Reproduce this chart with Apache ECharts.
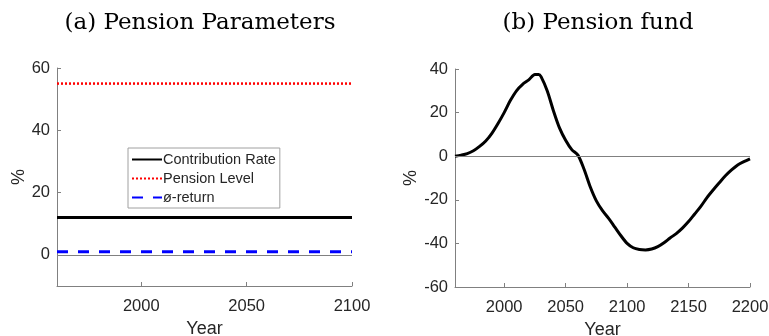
<!DOCTYPE html>
<html>
<head>
<meta charset="utf-8">
<script src="https://cdn.jsdelivr.net/npm/echarts@6/dist/echarts.min.js"></script>
<style>
  html, body { margin: 0; padding: 0; background: #fff; }
  #chart { width: 769px; height: 336px; }
</style>
</head>
<body>
<div id="chart"></div>
<script>
// panel (a): constant pension parameters over 1960-2100
const yearsA = [1960, 2100];
const contributionRate = [12, 12];
const pensionLevel = [55, 55];
const avgReturn = [1, 1];

// panel (b): pension fund, %
const yearsB = [1960, 1965, 1970, 1975, 1980, 1985, 1990, 1995, 2000, 2005,
  2010, 2015, 2020, 2025, 2028, 2030, 2035, 2040, 2045, 2050,
  2055, 2060, 2065, 2070, 2075, 2080, 2085, 2090, 2095, 2100,
  2105, 2110, 2115, 2120, 2125, 2130, 2135, 2140, 2145, 2150,
  2155, 2160, 2165, 2170, 2175, 2180, 2185, 2190, 2195, 2200];
const pensionFund = [0, 0.5, 1.2, 2.5, 4.5, 7, 10.5, 15, 20, 25.5,
  30, 33, 35, 37.5, 37.5, 36.5, 30, 21, 13, 7.3,
  3, 0.5, -6, -14, -20.5, -25, -28.5, -32.5, -36.5, -40,
  -42, -42.8, -43, -42.6, -41.5, -39.7, -37.5, -35.5, -33, -30,
  -26.5, -23, -19, -15.5, -12.2, -9, -6.3, -4, -2.5, -1.2];

const ticksXA = [2000, 2050, 2100];
const ticksYA = [0, 20, 40, 60];
const ticksXB = [2000, 2050, 2100, 2150, 2200];

const pairs = (xs, ys) => xs.map((x, i) => [x, ys[i]]);

const textColor = '#262626';
const axisGray = '#808080';
const labelFont = 'Liberation Sans';

const axisCommon = {
  type: 'value',
  axisLine: { show: true, onZero: false, lineStyle: { color: axisGray, width: 1 } },
  axisTick: { show: true, inside: true, length: 4, lineStyle: { color: axisGray } },
  splitLine: { show: false },
  axisLabel: { color: textColor, fontFamily: labelFont, fontSize: 16.5, formatter: v => String(v) },
  nameTextStyle: { color: textColor, fontFamily: labelFont, fontSize: 18 },
  nameLocation: 'middle'
};

const xAxis = (idx, min, max, ticks) => ({
  ...axisCommon,
  gridIndex: idx, min, max,
  name: 'Year', nameGap: 34,
  axisTick: { ...axisCommon.axisTick, customValues: ticks },
  axisLabel: { ...axisCommon.axisLabel, margin: 12, customValues: ticks }
});

const yAxis = (idx, min, max, ticks, interval, gap) => ({
  ...axisCommon,
  gridIndex: idx, min, max, interval,
  name: '%', nameGap: gap,
  axisTick: { ...axisCommon.axisTick, customValues: ticks },
  axisLabel: { ...axisCommon.axisLabel, margin: 7, customValues: ticks }
});

const zeroLine = {
  silent: true, symbol: 'none', label: { show: false },
  lineStyle: { color: axisGray, width: 1, type: 'solid' },
  data: [{ yAxis: 0 }]
};

const option = {
  animation: false,
  backgroundColor: '#fff',
  title: [
    { text: '(a) Pension Parameters', left: 195, top: 7, textAlign: 'center',
      textStyle: { fontFamily: 'DejaVu Serif', fontWeight: 'normal', fontSize: 23, color: '#000' } },
    { text: '(b) Pension fund', left: 593, top: 7, textAlign: 'center',
      textStyle: { fontFamily: 'DejaVu Serif', fontWeight: 'normal', fontSize: 23, color: '#000' } }
  ],
  legend: {
    orient: 'vertical', left: 128, top: 148,
    padding: [4, 4, 3, 3], itemGap: 4, itemWidth: 30, itemHeight: 14,
    backgroundColor: '#fff', borderColor: '#a0a0a0', borderWidth: 1, borderRadius: 0,
    itemStyle: { opacity: 0 },
    textStyle: { color: textColor, fontFamily: labelFont, fontSize: 14.5, padding: [0, 0, 0, -4] },
    data: ['Contribution Rate', 'Pension Level', 'ø-return']
  },
  grid: [
    { left: 57, right: 417, top: 68, bottom: 50, outerBoundsMode: 'none' },
    { left: 455, right: 19, top: 69, bottom: 49, outerBoundsMode: 'none' }
  ],
  xAxis: [
    xAxis(0, 1960, 2100, ticksXA),
    xAxis(1, 1960, 2200, ticksXB)
  ],
  yAxis: [
    yAxis(0, -10, 60, ticksYA, 10, 27),
    yAxis(1, -60, 40, null, 20, 33)
  ],
  series: [
    { name: 'Contribution Rate', type: 'line', xAxisIndex: 0, yAxisIndex: 0,
      data: pairs(yearsA, contributionRate), symbol: 'none',
      lineStyle: { color: '#000', width: 3 }, itemStyle: { color: '#000' },
      markLine: zeroLine, z: 3 },
    { name: 'Pension Level', type: 'line', xAxisIndex: 0, yAxisIndex: 0,
      data: pairs(yearsA, pensionLevel), symbol: 'none',
      lineStyle: { color: '#ff0000', width: 2.5, type: [2, 2] }, itemStyle: { color: '#ff0000' } },
    { name: 'ø-return', type: 'line', xAxisIndex: 0, yAxisIndex: 0,
      data: pairs(yearsA, avgReturn), symbol: 'none',
      lineStyle: { color: '#0000ff', width: 3, type: [11, 10] }, itemStyle: { color: '#0000ff' } },
    { name: 'Pension fund', type: 'line', xAxisIndex: 1, yAxisIndex: 1,
      data: pairs(yearsB, pensionFund), symbol: 'none', smooth: 0.3,
      lineStyle: { color: '#000', width: 3 },
      markLine: zeroLine }
  ]
};

const chart = echarts.init(document.getElementById('chart'));
chart.setOption(option);
</script>
</body>
</html>
